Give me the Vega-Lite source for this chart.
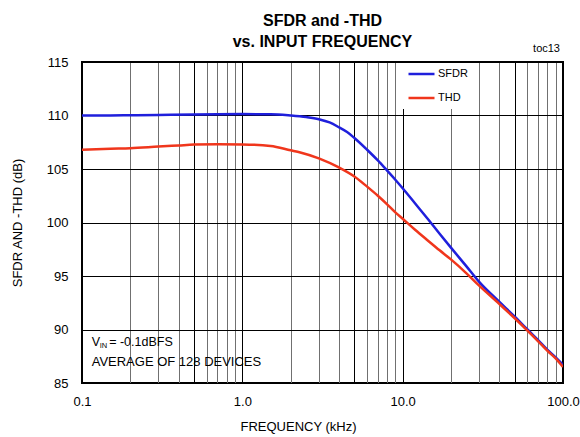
{
  "$schema": "https://vega.github.io/schema/vega-lite/v6.json",
  "autosize": "none",
  "width": 481,
  "height": 321,
  "padding": {"left": 82, "top": 62, "right": 17, "bottom": 54},
  "background": "white",
  "config": {
    "view": {"stroke": "black", "strokeWidth": 2},
    "font": "Liberation Sans, Arial, sans-serif"
  },
  "title": {
    "text": ["SFDR and -THD", "vs. INPUT FREQUENCY"],
    "font": "Liberation Sans, Arial, sans-serif",
    "fontSize": 16,
    "fontWeight": "bold",
    "lineHeight": 21,
    "offset": -7,
    "anchor": "middle",
    "color": "black"
  },
  "datasets": {
    "curves": [
      {"f": 0.1, "db": 110.0, "series": "SFDR"},
      {"f": 0.15, "db": 110.0, "series": "SFDR"},
      {"f": 0.2, "db": 110.02, "series": "SFDR"},
      {"f": 0.3, "db": 110.05, "series": "SFDR"},
      {"f": 0.5, "db": 110.1, "series": "SFDR"},
      {"f": 0.7, "db": 110.12, "series": "SFDR"},
      {"f": 1.0, "db": 110.13, "series": "SFDR"},
      {"f": 1.5, "db": 110.12, "series": "SFDR"},
      {"f": 2.0, "db": 110.0, "series": "SFDR"},
      {"f": 2.5, "db": 109.85, "series": "SFDR"},
      {"f": 3.0, "db": 109.65, "series": "SFDR"},
      {"f": 3.5, "db": 109.35, "series": "SFDR"},
      {"f": 4.0, "db": 108.9, "series": "SFDR"},
      {"f": 4.5, "db": 108.45, "series": "SFDR"},
      {"f": 5.0, "db": 107.9, "series": "SFDR"},
      {"f": 6.0, "db": 106.8, "series": "SFDR"},
      {"f": 7.0, "db": 105.8, "series": "SFDR"},
      {"f": 8.0, "db": 104.85, "series": "SFDR"},
      {"f": 9.0, "db": 104.0, "series": "SFDR"},
      {"f": 10, "db": 103.2, "series": "SFDR"},
      {"f": 12, "db": 101.75, "series": "SFDR"},
      {"f": 14.4, "db": 100.3, "series": "SFDR"},
      {"f": 17, "db": 98.95, "series": "SFDR"},
      {"f": 20, "db": 97.65, "series": "SFDR"},
      {"f": 25, "db": 95.9, "series": "SFDR"},
      {"f": 30, "db": 94.45, "series": "SFDR"},
      {"f": 40, "db": 92.6, "series": "SFDR"},
      {"f": 50, "db": 91.2, "series": "SFDR"},
      {"f": 60, "db": 90.0, "series": "SFDR"},
      {"f": 70, "db": 89.0, "series": "SFDR"},
      {"f": 80, "db": 88.1, "series": "SFDR"},
      {"f": 90, "db": 87.4, "series": "SFDR"},
      {"f": 100, "db": 86.7, "series": "SFDR"},
      {"f": 0.1, "db": 106.8, "series": "THD"},
      {"f": 0.15, "db": 106.9, "series": "THD"},
      {"f": 0.2, "db": 106.95, "series": "THD"},
      {"f": 0.3, "db": 107.1, "series": "THD"},
      {"f": 0.4, "db": 107.2, "series": "THD"},
      {"f": 0.5, "db": 107.28, "series": "THD"},
      {"f": 0.7, "db": 107.32, "series": "THD"},
      {"f": 1.0, "db": 107.3, "series": "THD"},
      {"f": 1.5, "db": 107.15, "series": "THD"},
      {"f": 2.0, "db": 106.75, "series": "THD"},
      {"f": 2.3, "db": 106.55, "series": "THD"},
      {"f": 3.0, "db": 106.0, "series": "THD"},
      {"f": 4.0, "db": 105.15, "series": "THD"},
      {"f": 5.0, "db": 104.3, "series": "THD"},
      {"f": 6.0, "db": 103.35, "series": "THD"},
      {"f": 7.0, "db": 102.5, "series": "THD"},
      {"f": 8.0, "db": 101.7, "series": "THD"},
      {"f": 9.0, "db": 100.95, "series": "THD"},
      {"f": 10, "db": 100.35, "series": "THD"},
      {"f": 12, "db": 99.3, "series": "THD"},
      {"f": 14.4, "db": 98.3, "series": "THD"},
      {"f": 17, "db": 97.4, "series": "THD"},
      {"f": 20, "db": 96.55, "series": "THD"},
      {"f": 25, "db": 95.25, "series": "THD"},
      {"f": 30, "db": 94.1, "series": "THD"},
      {"f": 40, "db": 92.4, "series": "THD"},
      {"f": 50, "db": 91.05, "series": "THD"},
      {"f": 60, "db": 89.9, "series": "THD"},
      {"f": 70, "db": 88.9, "series": "THD"},
      {"f": 80, "db": 88.0, "series": "THD"},
      {"f": 90, "db": 87.3, "series": "THD"},
      {"f": 100, "db": 86.5, "series": "THD"}
    ],
    "note1": [{"f": 0.1149, "db": 88.8}],
    "note2": [{"f": 0.1149, "db": 86.95, "label": "AVERAGE OF 128 DEVICES"}],
    "tag": [{"f": 100, "db": 115, "label": "toc13"}]
  },
  "layer": [
    {
      "data": {"name": "curves"},
      "mark": {"type": "line", "strokeWidth": 2.5, "interpolate": "monotone", "clip": true},
      "encoding": {
        "x": {
          "field": "f", "type": "quantitative",
          "scale": {"type": "log", "domain": [0.1, 100], "nice": false},
          "axis": {
            "values": [0.1, 0.2, 0.3, 0.4, 0.5, 0.6, 0.7, 0.8, 0.9, 1, 2, 3, 4, 5, 6, 7, 8, 9, 10, 20, 30, 40, 50, 60, 70, 80, 90, 100],
            "labelExpr": "indexof([0.1, 1, 10, 100], datum.value) >= 0 ? format(datum.value, '.1f') : ''",
            "title": "FREQUENCY (kHz)",
            "titleFont": "Liberation Sans, Arial, sans-serif",
            "titleFontSize": 13,
            "titleFontWeight": "normal",
            "titleColor": "black",
            "titleX": 216,
            "titlePadding": 12,
            "labelFont": "Liberation Sans, Arial, sans-serif",
            "labelFontSize": 13,
            "labelColor": "black",
            "labelPadding": 12,
            "labelFlush": false,
            "labelOverlap": false,
            "ticks": false,
            "domain": false,
            "grid": true,
            "gridColor": {"condition": {"test": "indexof([0.1, 0.5, 1, 5, 10, 50, 100], datum.value) >= 0", "value": "black"}, "value": "#707070"},
            "gridWidth": 1,
            "gridOpacity": 1
          }
        },
        "y": {
          "field": "db", "type": "quantitative",
          "scale": {"domain": [85, 115], "nice": false, "zero": false},
          "axis": {
            "values": [85, 90, 95, 100, 105, 110, 115],
            "title": "SFDR AND -THD (dB)",
            "titleFont": "Liberation Sans, Arial, sans-serif",
            "titleFontSize": 13,
            "titleFontWeight": "normal",
            "titleColor": "black",
            "titlePadding": 22,
            "labelFont": "Liberation Sans, Arial, sans-serif",
            "labelFontSize": 13,
            "labelColor": "black",
            "labelPadding": 14,
            "labelFlush": false,
            "ticks": false,
            "domain": false,
            "grid": true,
            "gridColor": "black",
            "gridWidth": 1,
            "gridOpacity": 1
          }
        },
        "color": {
          "field": "series", "type": "nominal",
          "scale": {"domain": ["SFDR", "THD"], "range": ["#1f1fdc", "#f0361c"]},
          "legend": {
            "title": null,
            "orient": "none",
            "legendX": 316,
            "legendY": 1,
            "fillColor": "white",
            "padding": 4,
            "symbolType": "stroke",
            "symbolSize": 676,
            "symbolStrokeWidth": 2.5,
            "symbolOffset": 5,
            "clipHeight": 14,
            "rowPadding": 10,
            "labelFont": "Liberation Sans, Arial, sans-serif",
            "labelFontSize": 11,
            "labelColor": "black",
            "labelOffset": 2
          }
        }
      }
    },
    {
      "data": {"name": "note1"},
      "mark": {"type": "text", "text": "V", "align": "left", "baseline": "middle", "font": "Liberation Sans, Arial, sans-serif", "fontSize": 12.5, "color": "black"},
      "encoding": {"x": {"field": "f", "type": "quantitative"}, "y": {"field": "db", "type": "quantitative"}}
    },
    {
      "data": {"name": "note1"},
      "mark": {"type": "text", "text": "IN", "align": "left", "baseline": "middle", "dx": 8, "dy": 3.5, "font": "Liberation Sans, Arial, sans-serif", "fontSize": 7.5, "color": "black"},
      "encoding": {"x": {"field": "f", "type": "quantitative"}, "y": {"field": "db", "type": "quantitative"}}
    },
    {
      "data": {"name": "note1"},
      "mark": {"type": "text", "text": "= -0.1dBFS", "align": "left", "baseline": "middle", "dx": 17.5, "font": "Liberation Sans, Arial, sans-serif", "fontSize": 12.5, "color": "black"},
      "encoding": {"x": {"field": "f", "type": "quantitative"}, "y": {"field": "db", "type": "quantitative"}}
    },
    {
      "data": {"name": "note2"},
      "mark": {"type": "text", "align": "left", "baseline": "middle", "font": "Liberation Sans, Arial, sans-serif", "fontSize": 13, "color": "black"},
      "encoding": {"x": {"field": "f", "type": "quantitative"}, "y": {"field": "db", "type": "quantitative"}, "text": {"field": "label"}}
    },
    {
      "data": {"name": "tag"},
      "mark": {"type": "text", "align": "right", "baseline": "alphabetic", "dx": -3, "dy": -10, "font": "Liberation Sans, Arial, sans-serif", "fontSize": 11, "color": "black"},
      "encoding": {"x": {"field": "f", "type": "quantitative"}, "y": {"field": "db", "type": "quantitative"}, "text": {"field": "label"}}
    }
  ]
}
